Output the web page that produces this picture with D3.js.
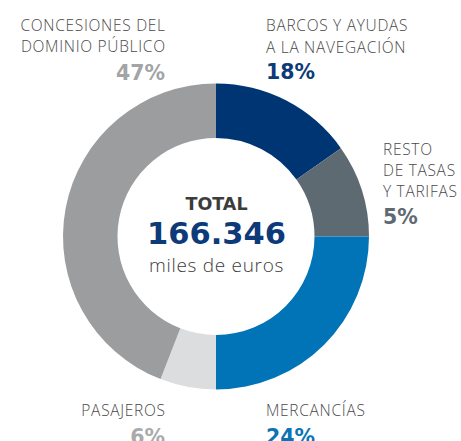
<!DOCTYPE html>
<html>
<head>
<meta charset="utf-8">
<script src="https://cdn.jsdelivr.net/npm/d3@7"></script>
<style>
  body { margin: 0; background: #fff; }
  text { font-family: "Open Sans", "Noto Sans", sans-serif; }
  text.bold { font-family: "DejaVu Sans", sans-serif; font-weight: 700; }
</style>
</head>
<body>
<div id="container"></div>
<script>
// slices clockwise from 12 o'clock, shares as drawn in the ring
const categories = ["barcos", "resto", "mercancias", "pasajeros", "concesiones"];
const ringShares = [15.2, 9.8, 25.0, 5.9, 44.1];
const percentLabels = ["18%", "5%", "24%", "6%", "47%"];
const nameLines = [
  ["BARCOS Y AYUDAS", "A LA NAVEGACIÓN"],
  ["RESTO", "DE TASAS", "Y TARIFAS"],
  ["MERCANCÍAS"],
  ["PASAJEROS"],
  ["CONCESIONES DEL", "DOMINIO PÚBLICO"],
];
const totalValue = "166.346";

main();

function main() {
  const width = 461;
  const height = 441;
  const center = { x: 216, y: 236.5 };
  const outerRadius = 153;
  const innerRadius = 98.5;

  const colors = ["#003574", "#5e6a72", "#0074b7", "#dcdddf", "#9c9d9f"];
  const pctColors = ["#0d3a78", "#5e6a72", "#0a74b7", "#a9aaac", "#a3a4a6"];
  // label anchor, baseline of first line, text-anchor
  const labelBoxes = [
    { x: 266, y: 31, anchor: "start", lineH: 21.5, pctGap: 26.5 },
    { x: 383, y: 155, anchor: "start", lineH: 21.2, pctGap: 27 },
    { x: 266, y: 416, anchor: "start", lineH: 21, pctGap: 28 },
    { x: 165.7, y: 416, anchor: "end", lineH: 21, pctGap: 28 },
    { x: 165.7, y: 31, anchor: "end", lineH: 21, pctGap: 27.5 },
  ];

  const svg = d3
    .select("#container")
    .append("svg")
    .attr("width", width)
    .attr("height", height);

  const data = categories.map((c, i) => ({ key: c, value: ringShares[i], i }));

  const pie = d3.pie().sort(null).value((d) => d.value);
  const arc = d3.arc().innerRadius(innerRadius).outerRadius(outerRadius);

  const ring = svg
    .append("g")
    .attr("transform", `translate(${center.x}, ${center.y})`);
  ring
    .selectAll("path")
    .data(pie(data))
    .join("path")
    .attr("fill", (d) => colors[d.data.i])
    .attr("d", arc);

  // labels
  const labels = svg
    .selectAll("g.label")
    .data(data)
    .join("g")
    .classed("label", true)
    .attr("transform", (d) => `translate(${labelBoxes[d.i].x}, ${labelBoxes[d.i].y})`)
    .attr("text-anchor", (d) => labelBoxes[d.i].anchor);

  labels.each(function (d) {
    const g = d3.select(this);
    const box = labelBoxes[d.i];
    const lines = nameLines[d.i];
    lines.forEach((line, j) => {
      g.append("text")
        .attr("y", j * box.lineH)
        .attr("fill", "#4a4a4a")
        .attr("font-size", "15.5px")
        .attr("font-weight", 300)
        .attr("letter-spacing", "0.7px")
        .text(line);
    });
    g.append("text")
      .classed("bold", true)
      .attr("x", box.anchor === "end" ? -0.7 : 0)
      .attr("y", (lines.length - 1) * box.lineH + box.pctGap)
      .attr("fill", pctColors[d.i])
      .attr("font-size", "20.5px")
      .text(percentLabels[d.i]);
  });

  // center text
  const mid = svg
    .append("g")
    .attr("transform", `translate(${center.x + 0.5}, 0)`)
    .attr("text-anchor", "middle");
  mid.append("text")
    .classed("bold", true)
    .attr("y", 210)
    .attr("fill", "#3c3c3c")
    .attr("font-size", "17.5px")
    .text("TOTAL");
  mid.append("text")
    .classed("bold", true)
    .attr("y", 244)
    .attr("fill", "#0d3a78")
    .attr("font-size", "30.5px")
    .text(totalValue);
  mid.append("text")
    .attr("y", 271.5)
    .attr("fill", "#3c3c3c")
    .attr("font-size", "19px")
    .attr("font-weight", 300)
    .attr("letter-spacing", "0.7px")
    .text("miles de euros");
}
</script>
</body>
</html>
